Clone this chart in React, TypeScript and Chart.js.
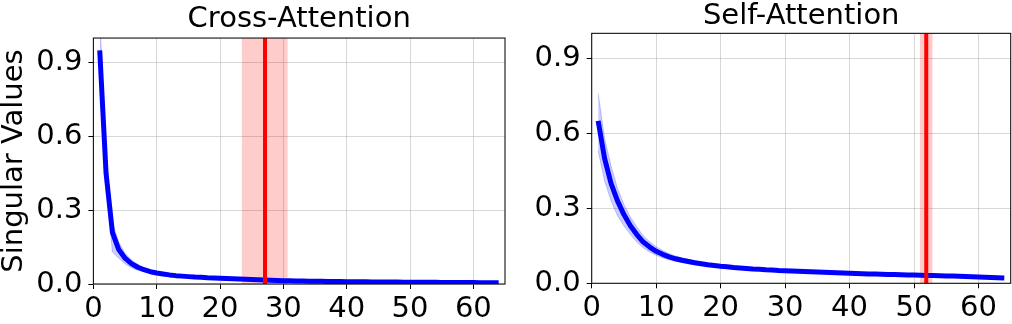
import React, { useEffect, useRef } from "react";
import { Chart, registerables } from "chart.js";

Chart.register(...registerables);

const FONT = "'DejaVu Sans', sans-serif";

const ranks = [
  1, 2, 3, 4, 5, 6, 7, 8, 9, 10, 11, 12, 13, 14, 15, 16, 17, 18, 19, 20,
  21, 22, 23, 24, 25, 26, 27, 28, 29, 30, 31, 32, 33, 34, 35, 36, 37, 38, 39, 40,
  41, 42, 43, 44, 45, 46, 47, 48, 49, 50, 51, 52, 53, 54, 55, 56, 57, 58, 59, 60,
  61, 62, 63, 64,
];

const xTicks = [0, 10, 20, 30, 40, 50, 60];
const yTicks = [0, 0.3, 0.6, 0.9];
const xMax = 65;
const yMax = 1.0;

const crossMean = [
  0.95, 0.45, 0.21, 0.14, 0.105, 0.083, 0.068, 0.058, 0.05, 0.045,
  0.041, 0.037, 0.034, 0.032, 0.03, 0.028, 0.027, 0.025, 0.024, 0.023,
  0.022, 0.021, 0.02, 0.019, 0.018, 0.017, 0.016, 0.015, 0.014, 0.013,
  0.013, 0.012, 0.012, 0.011, 0.011, 0.011, 0.01, 0.01, 0.01, 0.009,
  0.009, 0.009, 0.009, 0.008, 0.008, 0.008, 0.008, 0.008, 0.007, 0.007,
  0.007, 0.007, 0.007, 0.007, 0.006, 0.006, 0.006, 0.006, 0.006, 0.006,
  0.005, 0.005, 0.005, 0.005,
];
const crossLower = [
  0.9, 0.41, 0.13, 0.105, 0.082, 0.066, 0.056, 0.049, 0.043, 0.039,
  0.036, 0.033, 0.03, 0.028, 0.027, 0.025, 0.024, 0.023, 0.022, 0.021,
  0.02, 0.019, 0.018, 0.017, 0.016, 0.015, 0.014, 0.013, 0.012, 0.011,
  0.011, 0.01, 0.01, 0.009, 0.009, 0.009, 0.008, 0.008, 0.008, 0.007,
  0.007, 0.007, 0.007, 0.006, 0.006, 0.006, 0.006, 0.006, 0.005, 0.005,
  0.005, 0.005, 0.005, 0.005, 0.004, 0.004, 0.004, 0.004, 0.004, 0.004,
  0.003, 0.003, 0.003, 0.003,
];
const crossUpper = [
  1.1, 0.5, 0.25, 0.17, 0.125, 0.098, 0.08, 0.067, 0.057, 0.051,
  0.046, 0.041, 0.038, 0.036, 0.033, 0.031, 0.03, 0.027, 0.026, 0.025,
  0.024, 0.023, 0.022, 0.021, 0.02, 0.019, 0.018, 0.017, 0.016, 0.015,
  0.015, 0.014, 0.014, 0.013, 0.013, 0.013, 0.012, 0.012, 0.012, 0.011,
  0.011, 0.011, 0.011, 0.01, 0.01, 0.01, 0.01, 0.01, 0.009, 0.009,
  0.009, 0.009, 0.009, 0.009, 0.008, 0.008, 0.008, 0.008, 0.008, 0.008,
  0.007, 0.007, 0.007, 0.007,
];

const selfMean = [
  0.65, 0.5, 0.4, 0.33, 0.275, 0.23, 0.195, 0.165, 0.145, 0.128,
  0.116, 0.106, 0.098, 0.092, 0.087, 0.082, 0.078, 0.074, 0.071, 0.068,
  0.066, 0.063, 0.061, 0.059, 0.057, 0.056, 0.054, 0.053, 0.051, 0.05,
  0.049, 0.048, 0.047, 0.046, 0.045, 0.044, 0.043, 0.042, 0.041, 0.04,
  0.039, 0.038, 0.037, 0.037, 0.036, 0.035, 0.035, 0.034, 0.033, 0.033,
  0.032, 0.031, 0.031, 0.03, 0.029, 0.029, 0.028, 0.027, 0.026, 0.025,
  0.024, 0.023, 0.022, 0.021,
];
const selfLower = [
  0.53, 0.41, 0.33, 0.27, 0.23, 0.195, 0.165, 0.142, 0.125, 0.112,
  0.102, 0.094, 0.088, 0.083, 0.078, 0.074, 0.071, 0.067, 0.065, 0.062,
  0.061, 0.058, 0.056, 0.055, 0.053, 0.052, 0.05, 0.049, 0.047, 0.046,
  0.046, 0.045, 0.044, 0.043, 0.042, 0.041, 0.04, 0.039, 0.038, 0.037,
  0.036, 0.035, 0.034, 0.034, 0.033, 0.032, 0.032, 0.031, 0.03, 0.03,
  0.029, 0.028, 0.028, 0.027, 0.026, 0.026, 0.025, 0.024, 0.023, 0.022,
  0.021, 0.02, 0.019, 0.018,
];
const selfUpper = [
  0.76, 0.58, 0.47, 0.38, 0.315, 0.265, 0.225, 0.19, 0.166, 0.146,
  0.131, 0.119, 0.109, 0.102, 0.096, 0.09, 0.085, 0.081, 0.077, 0.074,
  0.071, 0.068, 0.066, 0.063, 0.061, 0.06, 0.058, 0.057, 0.055, 0.054,
  0.052, 0.051, 0.05, 0.049, 0.048, 0.047, 0.046, 0.045, 0.044, 0.043,
  0.042, 0.041, 0.04, 0.04, 0.039, 0.038, 0.038, 0.037, 0.036, 0.036,
  0.035, 0.034, 0.034, 0.033, 0.032, 0.032, 0.031, 0.03, 0.029, 0.028,
  0.027, 0.026, 0.025, 0.024,
];

// cutoff rank (red line) and its spread (red band)
const crossCutoff = [27.1, 23.4, 30.7];
const selfCutoff = [51.9, 50.9, 52.9];

const framePlugin = {
  id: "frame",
  afterDatasetsDraw(chart: any) {
    const { ctx, chartArea } = chart;
    const { left, top, right, bottom } = chartArea;
    ctx.save();
    ctx.strokeStyle = "#111";
    ctx.lineWidth = 1.1;
    ctx.strokeRect(left, top, right - left, bottom - top);
    ctx.restore();
  },
};

type Geo = {
  title: string;
  mean: number[];
  lower: number[];
  upper: number[];
  cut: number[];
  yW: number;
  xH: number;
  padRight: number;
  tTop: number;
  tBot: number;
  showYTitle: boolean;
};

function buildConfig(p: Geo): any {
  const pts = (ys: number[]) => ranks.map((r, i) => ({ x: r, y: ys[i] }));
  const gridOpts = {
    color: "rgba(176,176,176,0.5)",
    lineWidth: 1,
    tickColor: "#000",
    tickLength: 5,
    tickWidth: 1,
  };
  const tickFont = { family: FONT, size: 29 };
  return {
    type: "line",
    data: {
      datasets: [
        {
          label: "cutoff",
          data: [
            { x: p.cut[0], y: 0 },
            { x: p.cut[0], y: yMax },
          ],
          borderColor: "#ff0000",
          borderWidth: 4,
          pointRadius: 0,
          fill: false,
          clip: 0,
        },
        {
          label: "mean",
          data: pts(p.mean),
          borderColor: "#0000ff",
          borderWidth: 5,
          borderJoinStyle: "round",
          pointRadius: 0,
          fill: false,
          clip: 0,
        },
        {
          label: "upper",
          data: pts(p.upper),
          borderColor: "rgba(0,0,255,0.2)",
          backgroundColor: "rgba(0,0,255,0.2)",
          borderWidth: 1,
          pointRadius: 0,
          fill: "+1",
          clip: 0,
        },
        {
          label: "lower",
          data: pts(p.lower),
          borderColor: "rgba(0,0,255,0.2)",
          borderWidth: 1,
          pointRadius: 0,
          fill: false,
          clip: 0,
        },
        {
          label: "cutoffBand",
          data: [
            { x: p.cut[1], y: yMax },
            { x: p.cut[2], y: yMax },
          ],
          borderColor: "rgba(0,0,0,0)",
          backgroundColor: "rgba(255,0,0,0.2)",
          borderWidth: 0,
          pointRadius: 0,
          fill: "origin",
          clip: 0,
        },
      ],
    },
    options: {
      animation: false,
      responsive: false,
      maintainAspectRatio: false,
      events: [],
      layout: { padding: { left: 0, right: p.padRight, top: 0, bottom: 0 } },
      plugins: {
        legend: { display: false },
        tooltip: { enabled: false },
        title: {
          display: true,
          text: p.title,
          color: "#000",
          fullSize: false,
          font: { family: FONT, size: 29, weight: "normal", lineHeight: 1.15 },
          padding: { top: p.tTop, bottom: p.tBot },
        },
      },
      scales: {
        x: {
          type: "linear",
          min: 0,
          max: xMax,
          afterBuildTicks: (axis: any) => {
            axis.ticks = xTicks.map((v) => ({ value: v }));
          },
          afterFit: (axis: any) => {
            axis.height = p.xH;
          },
          ticks: {
            font: tickFont,
            color: "#000",
            padding: 3,
            maxRotation: 0,
            autoSkip: false,
            callback: (v: any) => String(v),
          },
          grid: gridOpts,
          border: { display: false },
        },
        y: {
          type: "linear",
          min: 0,
          max: yMax,
          afterBuildTicks: (axis: any) => {
            axis.ticks = yTicks.map((v) => ({ value: v }));
          },
          afterFit: (axis: any) => {
            axis.width = p.yW;
          },
          ticks: {
            font: tickFont,
            color: "#000",
            padding: 6,
            callback: (v: any) => Number(v).toFixed(1),
          },
          grid: gridOpts,
          border: { display: false },
          title: {
            display: p.showYTitle,
            text: "Singular Values",
            color: "#000",
            font: { family: FONT, size: 29, lineHeight: 1 },
            padding: { top: 0, bottom: 0 },
          },
        },
      },
    },
    plugins: [framePlugin],
  };
}

function SvdChart({ left, width, geo }: { left: number; width: number; geo: Geo }) {
  const ref = useRef<HTMLCanvasElement>(null);
  useEffect(() => {
    const chart = new Chart(ref.current as HTMLCanvasElement, buildConfig(geo));
    return () => chart.destroy();
  }, []);
  return (
    <canvas
      ref={ref}
      width={width}
      height={324}
      style={{ position: "absolute", left, top: 0, width, height: 324 }}
    />
  );
}

export default function App() {
  return (
    <div
      style={{
        position: "fixed",
        left: 0,
        top: 0,
        width: 1012,
        height: 324,
        background: "#fff",
        overflow: "hidden",
      }}
    >
      <SvdChart
        left={0}
        width={520}
        geo={{
          title: "Cross-Attention",
          mean: crossMean,
          lower: crossLower,
          upper: crossUpper,
          cut: crossCutoff,
          yW: 93.4,
          xH: 40,
          padRight: 15,
          tTop: 3,
          tBot: 1.7,
          showYTitle: true,
        }}
      />
      <SvdChart
        left={520}
        width={492}
        geo={{
          title: "Self-Attention",
          mean: selfMean,
          lower: selfLower,
          upper: selfUpper,
          cut: selfCutoff,
          yW: 71.7,
          xH: 40.7,
          padRight: 1.3,
          tTop: 0,
          tBot: 0,
          showYTitle: false,
        }}
      />
    </div>
  );
}
